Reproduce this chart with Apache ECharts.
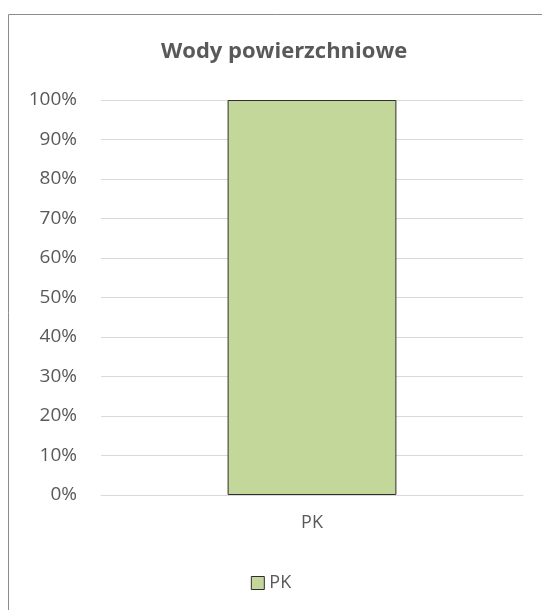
<!DOCTYPE html>
<html><head><meta charset="utf-8">
<script src="https://cdn.jsdelivr.net/npm/echarts@6/dist/echarts.min.js"></script>
<style>html,body{margin:0;padding:0;background:#fff}#c{width:542px;height:610px}</style>
</head><body><div id="c"></div>
<script>
const categories = ['PK'];
const seriesName = 'PK';
const values = [100];
const chartTitle = 'Wody powierzchniowe';

const chart = echarts.init(document.getElementById('c'), null, {renderer: 'canvas'});
const font = '"Open Sans", "Liberation Sans", sans-serif';
chart.setOption({
  animation: false,
  backgroundColor: '#fff',
  graphic: [{type: 'rect', shape: {x: 8.5, y: 14.5, width: 600, height: 700}, style: {fill: 'none', stroke: '#8c8c8c', lineWidth: 1}, silent: true}],
  title: {text: chartTitle, left: 156, top: 36, textStyle: {fontFamily: font, fontWeight: 'bold', fontSize: 22, color: '#595959'}},
  grid: {left: 101, right: 19, top: 100, bottom: 115, containLabel: false},
  legend: {top: 569, left: 'center', icon: 'rect', itemWidth: 13, itemHeight: 13, itemGap: 5,
    itemStyle: {borderColor: '#2e2e2e', borderWidth: 1},
    textStyle: {fontFamily: font, fontSize: 18, color: '#595959'}, data: [seriesName]},
  xAxis: {type: 'category', data: categories,
    axisLine: {show: true, lineStyle: {color: '#d9d9d9'}}, axisTick: {show: false},
    axisLabel: {fontFamily: font, fontSize: 18, color: '#595959', margin: 19}},
  yAxis: {type: 'value', min: 0, max: 100, interval: 10,
    axisLine: {show: false}, axisTick: {show: false},
    splitLine: {lineStyle: {color: '#d9d9d9'}},
    axisLabel: {fontFamily: font, fontSize: 19, color: '#595959', margin: 24, formatter: v => v + '%'}},
  series: [{name: seriesName, type: 'bar', data: values, barWidth: '40%',
    itemStyle: {color: '#c4d79b', borderColor: '#2e2e2e', borderWidth: 1}}]
});
</script></body></html>
